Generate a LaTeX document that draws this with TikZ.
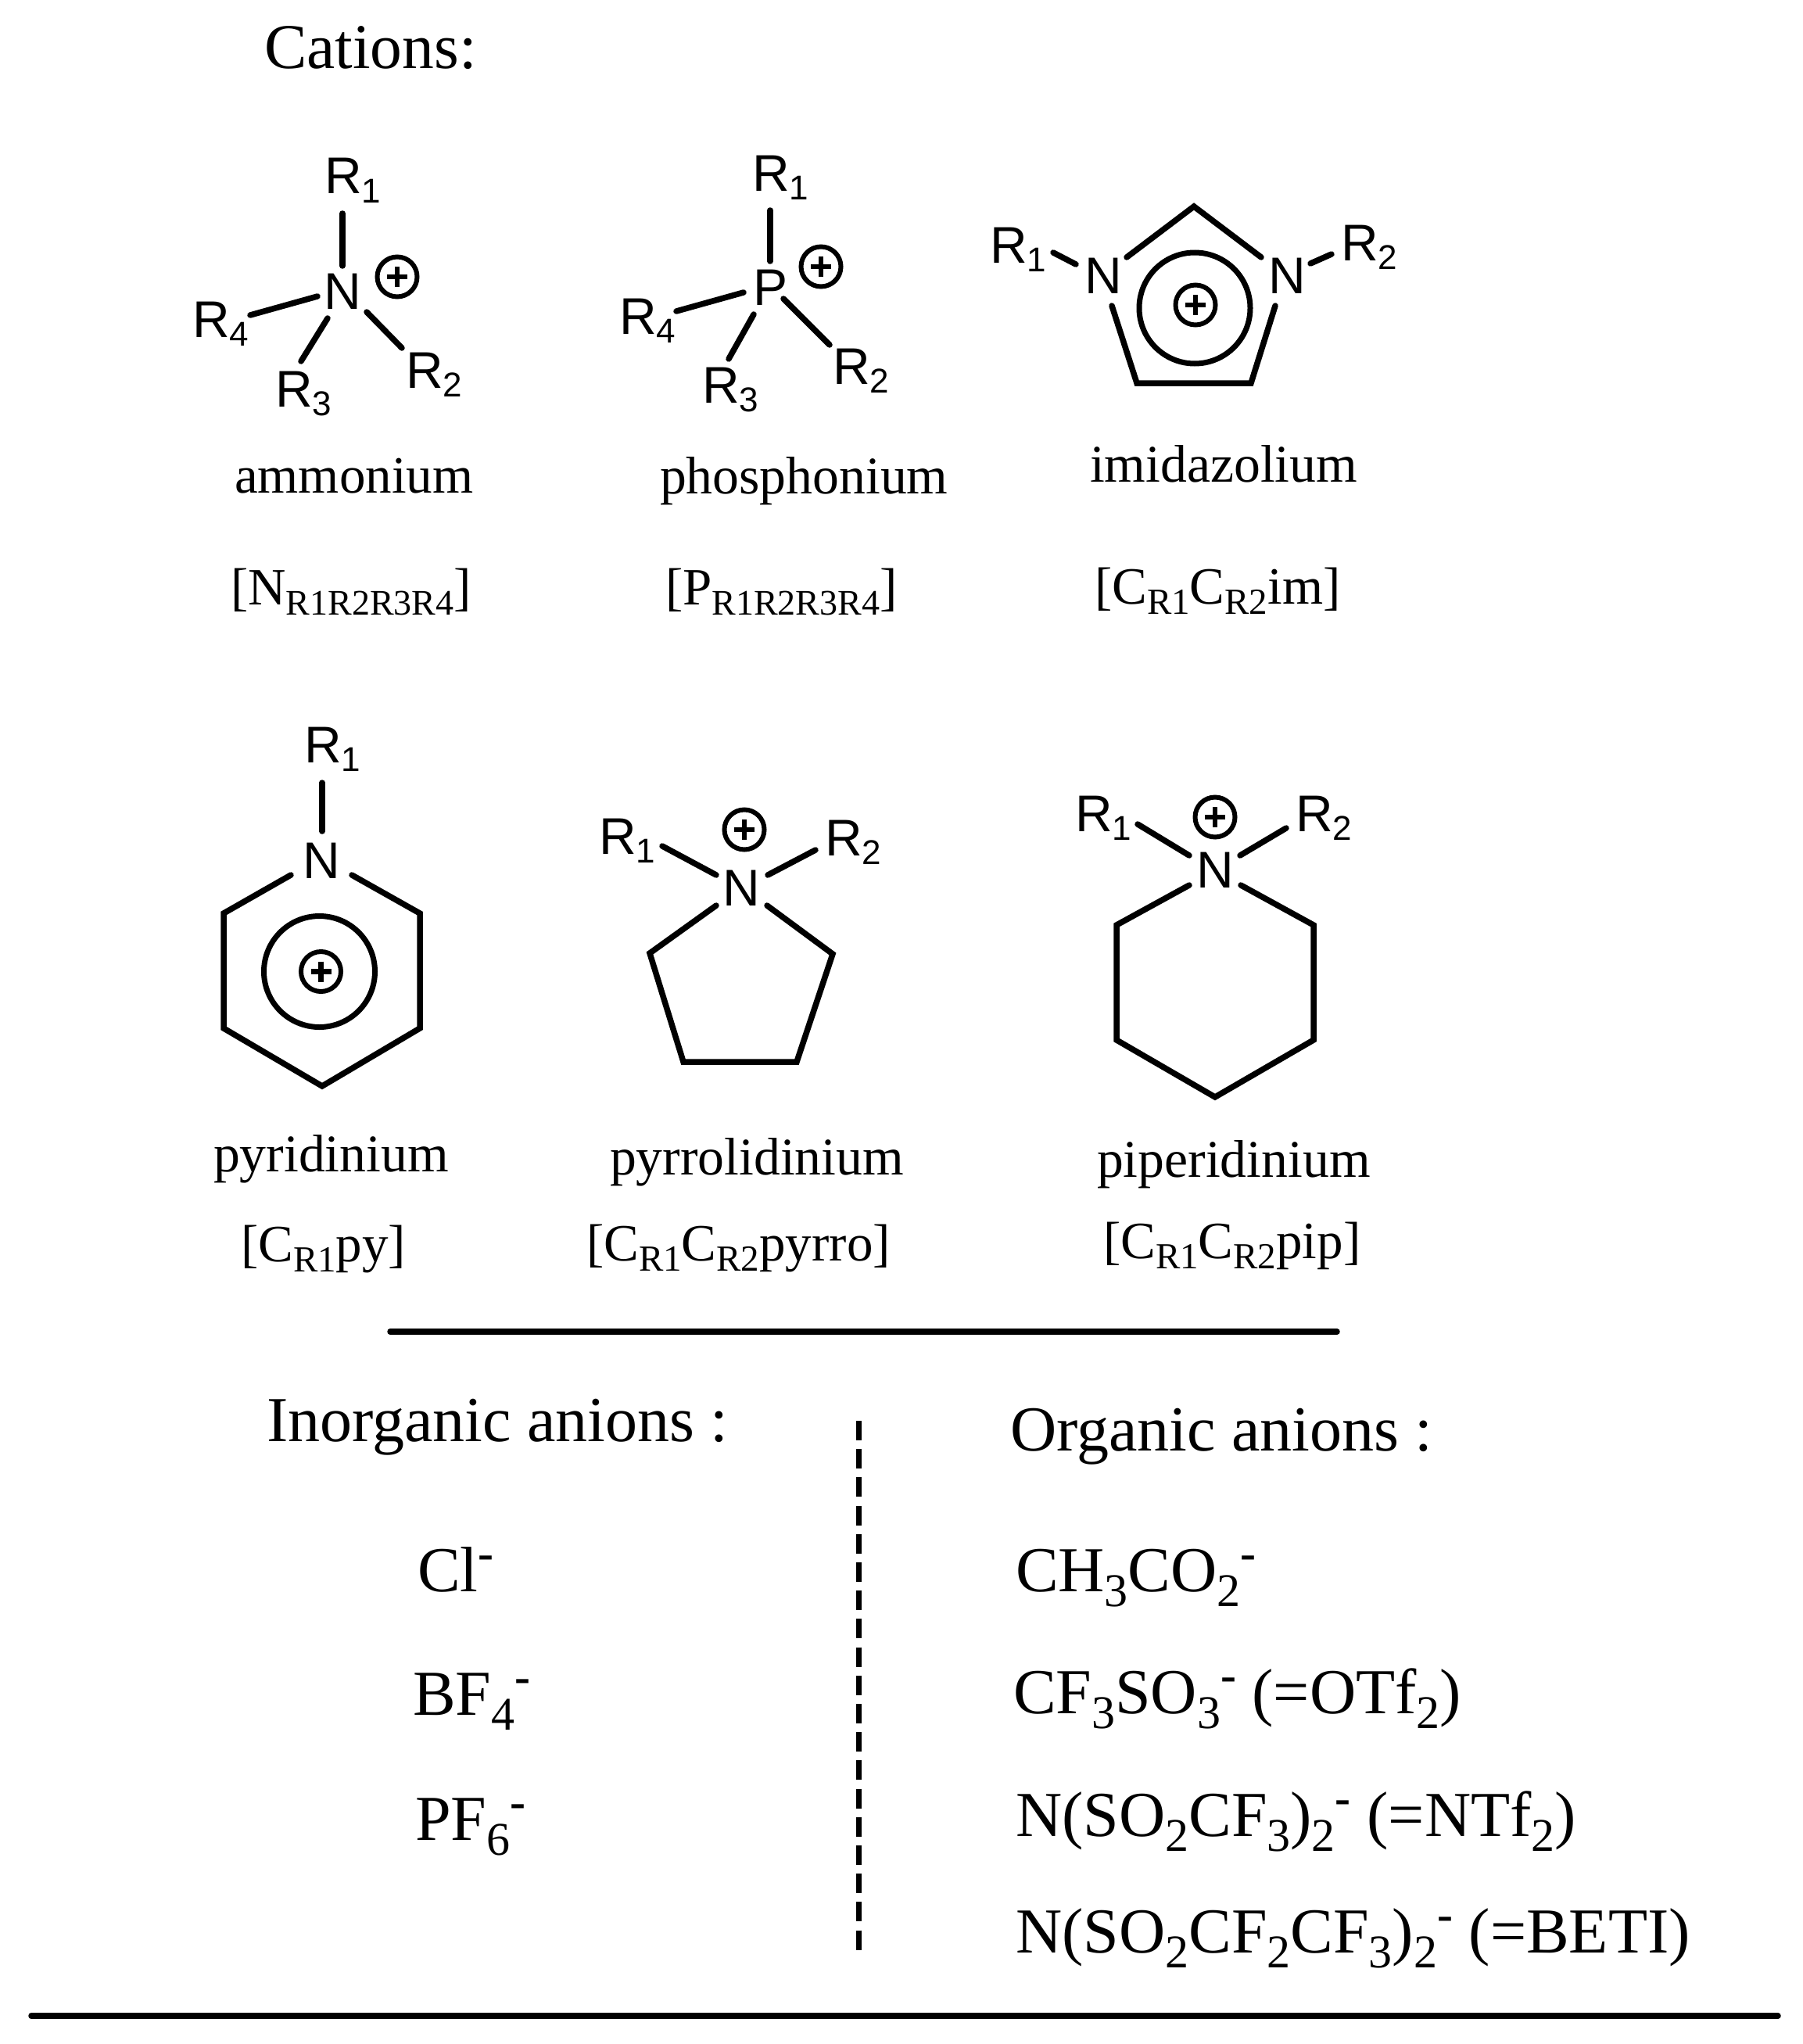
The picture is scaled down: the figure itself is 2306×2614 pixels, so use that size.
\documentclass[tikz,border=0pt]{standalone}
\usepackage{fontspec}
\setmainfont{Liberation Serif}
\newfontfamily\atomfont{Liberation Sans}
\tikzset{
  ser/.style={anchor=base west,inner sep=0pt,outer sep=0pt,text=black},
  atomlabel/.style={anchor=base west,inner sep=0pt,outer sep=0pt,text=black,font=\atomfont\fontsize{66}{66}\selectfont},
  bondline/.style={draw=black,line width=7.5pt,line cap=round,line join=miter},
  hrule/.style={draw=black,line width=7.5pt,line cap=round},
  dashrule/.style={draw=black,line width=7pt,dash pattern=on 25pt off 11.2pt},
  chgring/.style={circle,draw=black,line width=6pt,minimum size=51pt,inner sep=0pt,outer sep=0pt}
}
% serif sizes
\newcommand{\headf}{\fontsize{82}{82}\selectfont}
\newcommand{\namef}{\fontsize{67.7}{68}\selectfont}
\newcommand{\codef}{\fontsize{67}{67}\selectfont}
\newcommand{\anf}{\fontsize{82}{82}\selectfont}
% codes: small lowered text
\newcommand{\csub}[1]{\raisebox{-13pt}{\fontsize{47}{47}\selectfont #1}}
\newcommand{\csubn}[1]{\raisebox{-13pt}{\fontsize{46}{46}\selectfont #1}}
% anion sub / sup
\newcommand{\asub}[1]{\raisebox{-19pt}{\fontsize{60}{60}\selectfont #1}}
\newcommand{\asup}[1]{\raisebox{29pt}{\fontsize{60}{60}\selectfont\bfseries #1}}
% atom R group with subscript
\newcommand{\Rg}[1]{R\raisebox{-11pt}{\fontsize{44}{44}\selectfont #1}}
% bond: name, start, end
\newcommand{\bond}[3]{\coordinate (#1a) at (#2);\coordinate (#1b) at (#3);\draw[bondline] (#1a) -- (#1b);}
% plus charge: name, position
\newcommand{\chg}[2]{\node[chgring] (#1) at (#2) {};
  \draw[black,line width=6.5pt] ([xshift=-13pt]#1.center) -- ([xshift=13pt]#1.center);
  \draw[black,line width=6.5pt] ([yshift=13pt]#1.center) -- ([yshift=-13pt]#1.center);}
\begin{document}
\begin{tikzpicture}[x=1pt,y=-1pt]
\useasboundingbox[fill=white] (0,0) rectangle (2306,2614);

\node[ser,font=\fontsize{81.5}{82}\selectfont] (cations) at (338,88) {Cations:};

% ammonium
\node[atomlabel] (amN) at (414,395) {N};
\node[atomlabel] (amR1) at (415,248) {\Rg{1}};
\node[atomlabel] (amR2) at (519,496) {\Rg{2}};
\node[atomlabel] (amR3) at (352,520) {\Rg{3}};
\node[atomlabel] (amR4) at (246,431) {\Rg{4}};
\bond{am1}{438,273}{438,340}
\bond{am2}{469,399}{514,445}
\bond{am3}{419,407}{385,462}
\bond{am4}{406,379}{320,403}
\chg{amP}{508,354}
\node[ser,font=\fontsize{67}{67}\selectfont] (amname) at (300,630) {ammonium};
\node[ser,font=\codef] (amcode) at (295,773) {[N\csubn{R1R2R3R4}]};

% phosphonium
\node[atomlabel] (phP) at (963,390) {P};
\node[atomlabel] (phR1) at (962,245) {\Rg{1}};
\node[atomlabel] (phR2) at (1065,491) {\Rg{2}};
\node[atomlabel] (phR3) at (898,515) {\Rg{3}};
\node[atomlabel] (phR4) at (792,427) {\Rg{4}};
\bond{ph1}{985,269}{985,334}
\bond{ph2}{1002,382}{1061,441}
\bond{ph3}{964,402}{932,459}
\bond{ph4}{951,374}{865,398}
\chg{phC}{1050,341}
\node[ser,font=\namef] (phname) at (844,631) {phosphonium};
\node[ser,font=\codef] (phcode) at (851,773) {[P\csubn{R1R2R3R4}]};

% imidazolium
\node[atomlabel] (imN1) at (1387,375) {N};
\node[atomlabel] (imN2) at (1622,375) {N};
\node[atomlabel] (imR1) at (1266,336) {\Rg{1}};
\node[atomlabel] (imR2) at (1715,333) {\Rg{2}};
\bond{im1}{1347,323}{1376,338}
\bond{im2}{1676,337}{1703,325}
\coordinate (ima) at (1441,329);
\coordinate (imb) at (1527,264);
\coordinate (imc) at (1613,329);
\coordinate (imd) at (1631,391);
\coordinate (ime) at (1600,490);
\coordinate (imf) at (1454,490);
\coordinate (img) at (1422,391);
\draw[bondline] (ima) -- (imb) -- (imc);
\draw[bondline] (imd) -- (ime) -- (imf) -- (img);
\coordinate (imcc) at (1528,394);
\draw[black,line width=7pt] (imcc) circle[radius=71pt];
\chg{imC}{1529,390}
\node[ser,font=\namef] (imname) at (1394,616) {imidazolium};
\node[ser,font=\codef] (imcode) at (1400,772) {[C\csub{R1}C\csub{R2}im]};

% pyridinium
\node[atomlabel] (pyN) at (387,1123) {N};
\node[atomlabel] (pyR1) at (389,975) {\Rg{1}};
\bond{py1}{412,1001}{412,1063}
\coordinate (pya) at (372,1119);
\coordinate (pyb) at (286,1168);
\coordinate (pyc) at (286,1315);
\coordinate (pyd) at (412,1389);
\coordinate (pye) at (537,1315);
\coordinate (pyf) at (537,1168);
\coordinate (pyg) at (450,1119);
\draw[bondline] (pya) -- (pyb) -- (pyc) -- (pyd) -- (pye) -- (pyf) -- (pyg);
\coordinate (pycc) at (408.5,1242.5);
\draw[black,line width=7pt] (pycc) circle[radius=71pt];
\chg{pyC}{410.5,1242.5}
\node[ser,font=\namef] (pyname) at (273,1498) {pyridinium};
\node[ser,font=\codef] (pycode) at (308,1613) {[C\csub{R1}py]};

% pyrrolidinium
\node[atomlabel] (roN) at (924,1158) {N};
\node[atomlabel] (roR1) at (766,1092) {\Rg{1}};
\node[atomlabel] (roR2) at (1055,1094) {\Rg{2}};
\bond{ro1}{847,1082}{916,1119}
\bond{ro2}{1043,1087}{982,1119}
\coordinate (roa) at (916,1158);
\coordinate (rob) at (831,1219);
\coordinate (roc) at (874,1358);
\coordinate (rod) at (1019,1358);
\coordinate (roe) at (1065,1220);
\coordinate (rof) at (981,1158);
\draw[bondline] (roa) -- (rob) -- (roc) -- (rod) -- (roe) -- (rof);
\chg{roC}{952,1061}
\node[ser,font=\namef] (roname) at (780,1502) {pyrrolidinium};
\node[ser,font=\codef] (rocode) at (750,1612) {[C\csub{R1}C\csub{R2}pyrro]};

% piperidinium
\node[atomlabel] (piN) at (1530,1135) {N};
\node[atomlabel] (piR1) at (1375,1063) {\Rg{1}};
\node[atomlabel] (piR2) at (1657,1063) {\Rg{2}};
\bond{pi1}{1455,1054}{1521,1094}
\bond{pi2}{1645,1059}{1586,1094}
\coordinate (pia) at (1521,1132);
\coordinate (pib) at (1428,1183);
\coordinate (pic) at (1428,1330);
\coordinate (pid) at (1554,1403);
\coordinate (pie) at (1680,1330);
\coordinate (pif) at (1680,1183);
\coordinate (pig) at (1587,1132);
\draw[bondline] (pia) -- (pib) -- (pic) -- (pid) -- (pie) -- (pif) -- (pig);
\chg{piC}{1554,1045}
\node[ser,font=\namef] (piname) at (1403,1505) {piperidinium};
\node[ser,font=\codef] (picode) at (1411,1609) {[C\csub{R1}C\csub{R2}pip]};

% rules
\coordinate (ra) at (499,1703);
\coordinate (rb) at (1710,1703);
\draw[hrule] (ra) -- (rb);
\coordinate (rc) at (40,2578);
\coordinate (rd) at (2274,2578);
\draw[hrule] (rc) -- (rd);
\coordinate (re) at (1098,1817);
\coordinate (rf) at (1098,2494);
\draw[dashrule] (re) -- (rf);

% anions
\node[ser,font=\headf] (inorg) at (341,1843) {Inorganic anions :};
\node[ser,font=\anf] (cl) at (534,2035) {Cl\asup{-}};
\node[ser,font=\anf] (bf) at (528,2193) {BF\asub{4}\asup{-}};
\node[ser,font=\anf] (pf) at (531,2353) {PF\asub{6}\asup{-}};

\node[ser,font=\headf] (org) at (1292,1855) {Organic anions :};
\node[ser,font=\anf] (o1) at (1299,2035) {CH\asub{3}CO\asub{2}\asup{-}};
\node[ser,font=\anf] (o2) at (1296,2191) {CF\asub{3}SO\asub{3}\asup{-} (=OTf\asub{2})};
\node[ser,font=\anf] (o3) at (1299,2348) {N(SO\asub{2}CF\asub{3})\asub{2}\asup{-} (=NTf\asub{2})};
\node[ser,font=\anf] (o4) at (1299,2497) {N(SO\asub{2}CF\asub{2}CF\asub{3})\asub{2}\asup{-} (=BETI)};
\end{tikzpicture}
\end{document}
